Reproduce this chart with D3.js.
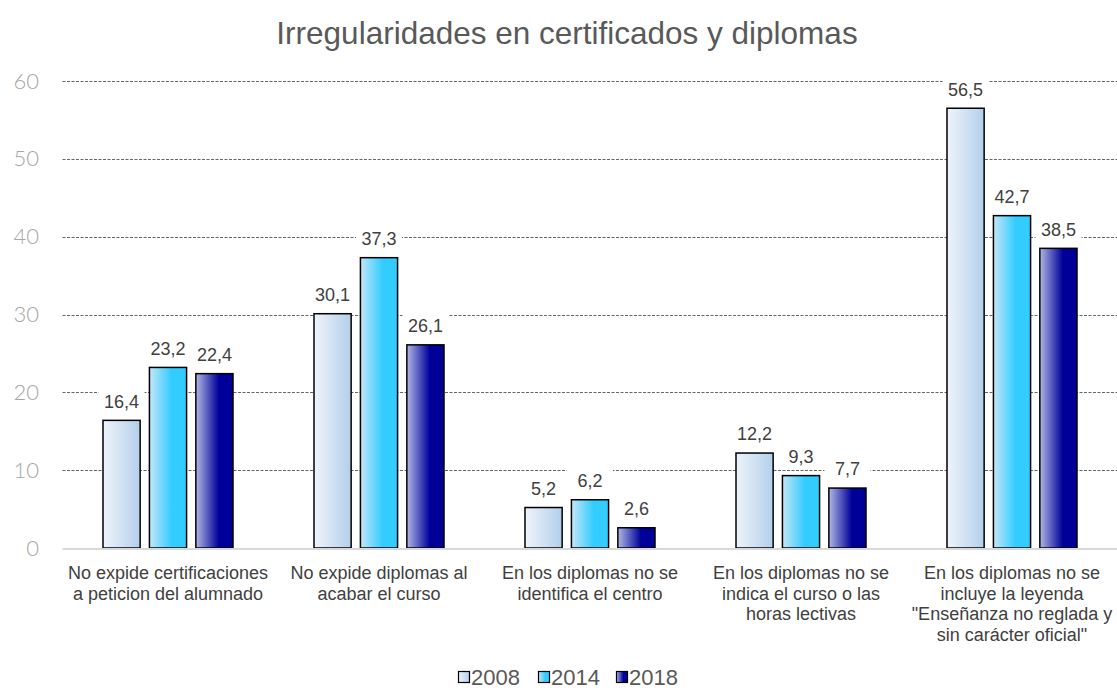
<!DOCTYPE html>
<html>
<head>
<meta charset="utf-8">
<script src="https://cdnjs.cloudflare.com/ajax/libs/d3/7.8.5/d3.min.js"></script>
<style>
  body { margin: 0; background: #fff; }
  svg { display: block; }
</style>
</head>
<body>
<div id="chart"></div>
<script>
// data
var categories = [
  "No expide certificaciones\na peticion del alumnado",
  "No expide diplomas al\nacabar el curso",
  "En los diplomas no se\nidentifica el centro",
  "En los diplomas no se\nindica el curso o las\nhoras lectivas",
  "En los diplomas no se\nincluye la leyenda\n\"Enseñanza no reglada y\nsin carácter oficial\""
];
var series = ["2008", "2014", "2018"];
var values2008 = [16.4, 30.1, 5.2, 12.2, 56.5];
var values2014 = [23.2, 37.3, 6.2, 9.3, 42.7];
var values2018 = [22.4, 26.1, 2.6, 7.7, 38.5];
var yTicks = [0, 10, 20, 30, 40, 50, 60];
var chartTitle = "Irregularidades en certificados y diplomas";

(function() {
  var seriesValues = [values2008, values2014, values2018];

  var width = 1117, height = 690,
      plotLeft = 62.5, plotRight = 1117.5,
      plotTop = 81, plotBottom = 548;

  var svg = d3.select("#chart").append("svg")
    .attr("width", width).attr("height", height)
    .style("font-family", "'Liberation Sans', Arial, sans-serif");

  // gradients
  var grads = [
    {id: "g2008", stops: [["0%", "#eef4fb"], ["100%", "#b3cfea"]]},
    {id: "g2014", stops: [["0%", "#c4e6f7"], ["60%", "#33ccff"], ["100%", "#33ccff"]]},
    {id: "g2018", stops: [["0%", "#b0b8e4"], ["62%", "#000099"], ["100%", "#000099"]]}
  ];
  var defs = svg.append("defs");
  grads.forEach(function(g) {
    var lg = defs.append("linearGradient").attr("id", g.id)
      .attr("x1", "0%").attr("x2", "100%").attr("y1", "0%").attr("y2", "0%");
    g.stops.forEach(function(s) {
      lg.append("stop").attr("offset", s[0]).attr("stop-color", s[1]);
    });
  });

  var x0 = d3.scaleBand().domain(categories).range([plotLeft, plotRight]).padding(0);
  var bw = x0.bandwidth();
  var x1 = d3.scaleBand().domain(series).range([bw / 2 - 65, bw / 2 + 65]).paddingInner(0.2);
  var y = d3.scaleLinear().domain([0, 60]).range([plotBottom, plotTop]);

  // title
  svg.append("text")
    .attr("x", 567).attr("y", 44)
    .attr("text-anchor", "middle")
    .attr("font-size", 31.5)
    .attr("fill", "#595959")
    .text(chartTitle);

  // grid
  svg.append("g").selectAll("line")
    .data(yTicks.filter(function(d) { return d > 0; }))
    .join("line")
    .attr("x1", plotLeft).attr("x2", width)
    .attr("y1", function(d) { return Math.round(y(d)) + 0.5; })
    .attr("y2", function(d) { return Math.round(y(d)) + 0.5; })
    .attr("stroke", "#666")
    .attr("stroke-width", 1)
    .attr("stroke-dasharray", "3,1.5");

  // y axis labels
  var yAxis = d3.axisLeft(y).tickValues(yTicks).tickSize(0).tickPadding(0);
  var yg = svg.append("g").attr("transform", "translate(39,0)").call(yAxis);
  yg.select(".domain").remove();
  yg.selectAll("text")
    .attr("font-family", "Lato, sans-serif")
    .attr("font-weight", 300)
    .attr("font-size", 22)
    .attr("fill", "#a6a6a6");

  // bars
  var groups = svg.append("g").selectAll("g")
    .data(categories)
    .join("g")
    .attr("transform", function(d) { return "translate(" + x0(d) + ",0)"; });

  function rows(d, i) {
    return series.map(function(s, j) { return {s: s, v: seriesValues[j][i]}; });
  }

  groups.selectAll("rect")
    .data(rows)
    .join("rect")
    .attr("x", function(d) { return x1(d.s); })
    .attr("y", function(d) { return y(d.v); })
    .attr("width", x1.bandwidth())
    .attr("height", function(d) { return y(0) - y(d.v); })
    .attr("fill", function(d) { return "url(#g" + d.s + ")"; })
    .attr("stroke", "#000")
    .attr("stroke-width", 1.5);

  // value labels with white backing
  var labels = groups.selectAll("g.lbl")
    .data(rows)
    .join("g").attr("class", "lbl")
    .attr("transform", function(d) {
      return "translate(" + (x1(d.s) + x1.bandwidth() / 2) + "," + (y(d.v) - 19) + ")";
    });
  labels.append("rect")
    .attr("x", -23).attr("y", -11).attr("width", 46).attr("height", 22)
    .attr("fill", "#fff");
  labels.append("text")
    .attr("text-anchor", "middle")
    .attr("dy", "0.35em")
    .attr("font-size", 18)
    .attr("fill", "#404040")
    .text(function(d) { return d3.format(".1f")(d.v).replace(".", ","); });

  // baseline
  svg.append("line")
    .attr("x1", plotLeft).attr("x2", width)
    .attr("y1", plotBottom + 1).attr("y2", plotBottom + 1)
    .attr("stroke", "#d9d9d9").attr("stroke-width", 2);

  // category labels
  var xAxis = d3.axisBottom(x0).tickSize(0).tickFormat("");
  var xg = svg.append("g").attr("transform", "translate(0," + plotBottom + ")").call(xAxis);
  xg.select(".domain").remove();
  xg.selectAll(".tick").each(function(d) {
    var t = d3.select(this).append("text")
      .attr("text-anchor", "middle")
      .attr("font-size", 18)
      .attr("fill", "#404040")
      .attr("y", 31);
    d.split("\n").forEach(function(line, i) {
      t.append("tspan").attr("x", 0).attr("dy", i === 0 ? 0 : 20.6).text(line);
    });
  });

  // legend
  var legendX = [458, 538, 616];
  var legend = svg.append("g").selectAll("g")
    .data(series)
    .join("g")
    .attr("transform", function(d, i) { return "translate(" + legendX[i] + ",677)"; });
  legend.append("rect")
    .attr("x", 0.5).attr("y", -5.5).attr("width", 11).attr("height", 11)
    .attr("fill", function(d) { return "url(#g" + d + ")"; })
    .attr("stroke", "#000").attr("stroke-width", 1.2);
  legend.append("text")
    .attr("x", 13).attr("dy", "0.36em")
    .attr("font-size", 22)
    .attr("fill", "#595959")
    .text(function(d) { return d; });
})();
</script>
</body>
</html>
